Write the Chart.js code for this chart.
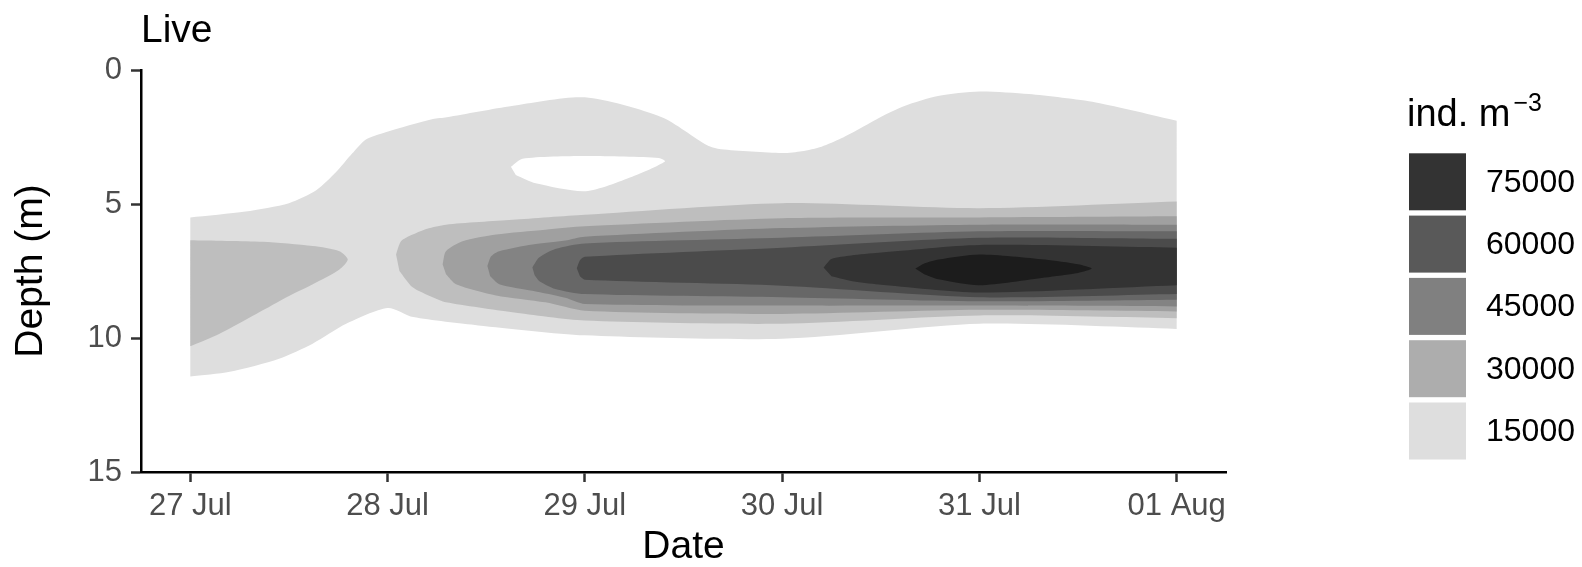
<!DOCTYPE html>
<html>
<head>
<meta charset="utf-8">
<script src="https://cdn.jsdelivr.net/npm/chart.js@4.4.1/dist/chart.umd.min.js"></script>
<style>
  html, body { margin: 0; padding: 0; background: #fff; }
</style>
</head>
<body>
<canvas id="contourChart" width="1582" height="567"></canvas>
<script>
// x = days after 27 Jul, y = depth (m); each level is a filled contour band
const dateLabels = ['27 Jul', '28 Jul', '29 Jul', '30 Jul', '31 Jul', '01 Aug'];
const dateTicks = [0, 1, 2, 3, 4, 5];
const depthTicks = [0, 5, 10, 15];

const level1 = [[0, 5.50], [0.28, 5.28], [0.50, 4.97], [0.64, 4.48], [0.74, 3.80], [0.82, 3.12], [0.89, 2.59],
  [0.99, 2.32], [1.23, 1.83], [1.30, 1.76], [1.63, 1.34], [2.0, 1.02], [2.39, 1.76], [2.62, 2.81], [2.69, 2.96],
  [3.0, 3.10], [3.1, 3.03], [3.2, 2.86], [3.3, 2.55], [3.39, 2.20], [3.5, 1.75], [3.62, 1.34], [3.79, 0.97],
  [4.0, 0.80], [4.25, 0.90], [4.59, 1.21], [5, 1.89], [5, 9.66], [4, 9.47], [3, 10.03], [2, 9.90], [1.46, 9.53],
  [1.13, 9.22], [1.0, 8.88], [0.79, 9.47], [0.62, 10.21], [0.45, 10.77], [0.20, 11.26], [0, 11.44]];
const hole1 = [[1.625, 3.61], [1.684, 3.31], [1.996, 3.21], [2.375, 3.28], [2.406, 3.41], [2.24, 3.98],
  [2.004, 4.52], [1.751, 4.23], [1.65, 3.92]];
const level2a = [[0, 6.35], [0.367, 6.41], [0.621, 6.57], [0.756, 6.76], [0.798, 7.07], [0.756, 7.44],
  [0.621, 7.99], [0.503, 8.42], [0.334, 9.10], [0.148, 9.84], [0, 10.31]];
const level2 = [[1.043, 6.88], [1.068, 6.39], [1.127, 6.14], [1.2, 5.92], [1.296, 5.77], [1.633, 5.59], [2, 5.40],
  [3, 4.97], [4, 5.16], [5, 4.91], [5, 9.26], [4, 9.16], [3, 9.47], [2, 9.35], [1.633, 9.04], [1.296, 8.67],
  [1.228, 8.48], [1.127, 8.11], [1.06, 7.50]];
const level3 = [[1.279, 7.25], [1.296, 6.76], [1.38, 6.39], [1.55, 6.14], [1.80, 5.96], [2, 5.83], [3, 5.53],
  [4, 5.50], [5, 5.46], [5, 9.01], [4, 8.95], [3, 9.10], [2, 8.98], [1.80, 8.67], [1.55, 8.41], [1.347, 7.99],
  [1.296, 7.62]];
const level4 = [[1.506, 7.31], [1.525, 6.95], [1.566, 6.76], [1.734, 6.51], [1.90, 6.36], [2, 6.22], [3, 5.90],
  [4, 5.77], [5, 5.77], [5, 8.82], [4, 8.79], [3, 8.79], [2, 8.73], [1.90, 8.50], [1.734, 8.24], [1.566, 7.99],
  [1.52, 7.70]];
const level5 = [[1.734, 7.37], [1.768, 7.00], [1.85, 6.68], [2, 6.47], [3, 6.26], [4, 6.02], [5, 6.02],
  [5, 8.57], [4, 8.63], [3, 8.48], [2, 8.36], [1.85, 8.17], [1.768, 7.87], [1.745, 7.65]];
const level6 = [[1.959, 7.40], [1.975, 7.10], [2, 6.97], [3, 6.63], [4, 6.26], [5, 6.30], [5, 8.36], [4, 8.48],
  [3, 8.05], [2, 7.83], [1.975, 7.70]];
const level7 = [[3.21, 7.37], [3.25, 7.05], [3.35, 6.92], [3.49, 6.82], [4, 6.53], [5, 6.63], [5, 8.03],
  [4, 8.30], [3.49, 8.00], [3.35, 7.87], [3.25, 7.70]];
const level8 = [[3.675, 7.41], [3.72, 7.22], [3.793, 7.07], [4, 6.88], [4.332, 7.07], [4.50, 7.25], [4.569, 7.41],
  [4.50, 7.57], [4.332, 7.74], [4, 8.03], [3.793, 7.81], [3.72, 7.62]];

const levels = [level1, hole1, level2a, level2, level3, level4, level5, level6, level7, level8];
const levelColors = ['#DEDEDE', '#FFFFFF', '#BEBEBE', '#BEBEBE', '#A0A0A0', '#838383', '#676767', '#4B4B4B',
  '#333333', '#1C1C1C'];

const legendBreaks = ['75000', '60000', '45000', '30000', '15000'];
const legendColors = ['#333333', '#595959', '#808080', '#ADADAD', '#DEDEDE'];

const FONT = "'Liberation Sans', Arial, sans-serif";
const lastDay = dateTicks[dateTicks.length - 1];

// doubled points keep the cut-off edge at the last date sharp when the line is smoothed
function toPoints(pts) {
  const out = [];
  pts.forEach(function (p) {
    out.push({ x: p[0], y: p[1] });
    if (p[0] === lastDay) out.push({ x: p[0], y: p[1] });
  });
  return out;
}

const datasets = levels.map(function (pts, i) {
  return {
    data: toPoints(pts),
    showLine: true,
    fill: 'shape',
    tension: 0.25,
    backgroundColor: levelColors[i],
    borderWidth: 0,
    pointRadius: 0,
    order: levels.length - i
  };
});

// title + legend drawn on the canvas
const extrasPlugin = {
  id: 'extras',
  afterDraw(chart) {
    const ctx = chart.ctx;
    ctx.save();
    ctx.fillStyle = '#000';
    ctx.textAlign = 'left';
    ctx.textBaseline = 'alphabetic';
    ctx.font = '39px ' + FONT;
    ctx.fillText('Live', 141, 42);

    // legend title
    ctx.font = '38px ' + FONT;
    ctx.fillText('ind. m', 1407, 126);
    const w = ctx.measureText('ind. m').width;
    ctx.font = '25px ' + FONT;
    ctx.fillText('\u22123', 1407 + w + 3, 111);

    const keyX = 1409, keyW = 57, keyH = 57, step = 62.3, keyY = 153.3;
    ctx.font = '32px ' + FONT;
    ctx.textBaseline = 'middle';
    legendBreaks.forEach(function (lab, i) {
      const y = keyY + i * step;
      ctx.fillStyle = legendColors[i];
      ctx.fillRect(keyX, y, keyW, keyH);
      ctx.fillStyle = '#000';
      ctx.fillText(lab, 1486, y + keyH / 2 + 1);
    });
    ctx.restore();
  }
};

new Chart(document.getElementById('contourChart'), {
  type: 'scatter',
  data: { datasets: datasets },
  options: {
    responsive: false,
    animation: false,
    events: [],
    layout: { padding: { left: 0, top: 70, right: 356, bottom: 0 } },
    plugins: { legend: { display: false }, tooltip: { enabled: false } },
    scales: {
      x: {
        type: 'linear',
        min: -0.25,
        max: 5.25,
        afterBuildTicks: function (scale) { scale.ticks = dateTicks.map(v => ({ value: v })); },
        afterFit: function (scale) { scale.height = 95; },
        ticks: {
          autoSkip: false, maxRotation: 0, padding: 6, color: '#4D4D4D',
          font: { family: FONT, size: 31 },
          callback: function (v, i) { return dateLabels[i]; }
        },
        grid: { drawOnChartArea: false, drawTicks: true, tickLength: 10, tickWidth: 2.5, tickColor: '#333' },
        border: { display: true, color: '#000', width: 2.5 },
        title: { display: true, text: 'Date', color: '#000', font: { family: FONT, size: 39, lineHeight: 1 }, padding: 0 }
      },
      y: {
        type: 'linear',
        reverse: true,
        min: 0,
        max: 15,
        afterBuildTicks: function (scale) { scale.ticks = depthTicks.map(v => ({ value: v })); },
        afterFit: function (scale) { scale.width = 141; },
        ticks: { padding: 9, color: '#4D4D4D', font: { family: FONT, size: 31 } },
        grid: { drawOnChartArea: false, drawTicks: true, tickLength: 10, tickWidth: 2.5, tickColor: '#333' },
        border: { display: true, color: '#000', width: 2.5 },
        title: { display: true, text: 'Depth (m)', color: '#000', font: { family: FONT, size: 39, lineHeight: 1 }, padding: { top: 12 } }
      }
    }
  },
  plugins: [extrasPlugin]
});
</script>
</body>
</html>
